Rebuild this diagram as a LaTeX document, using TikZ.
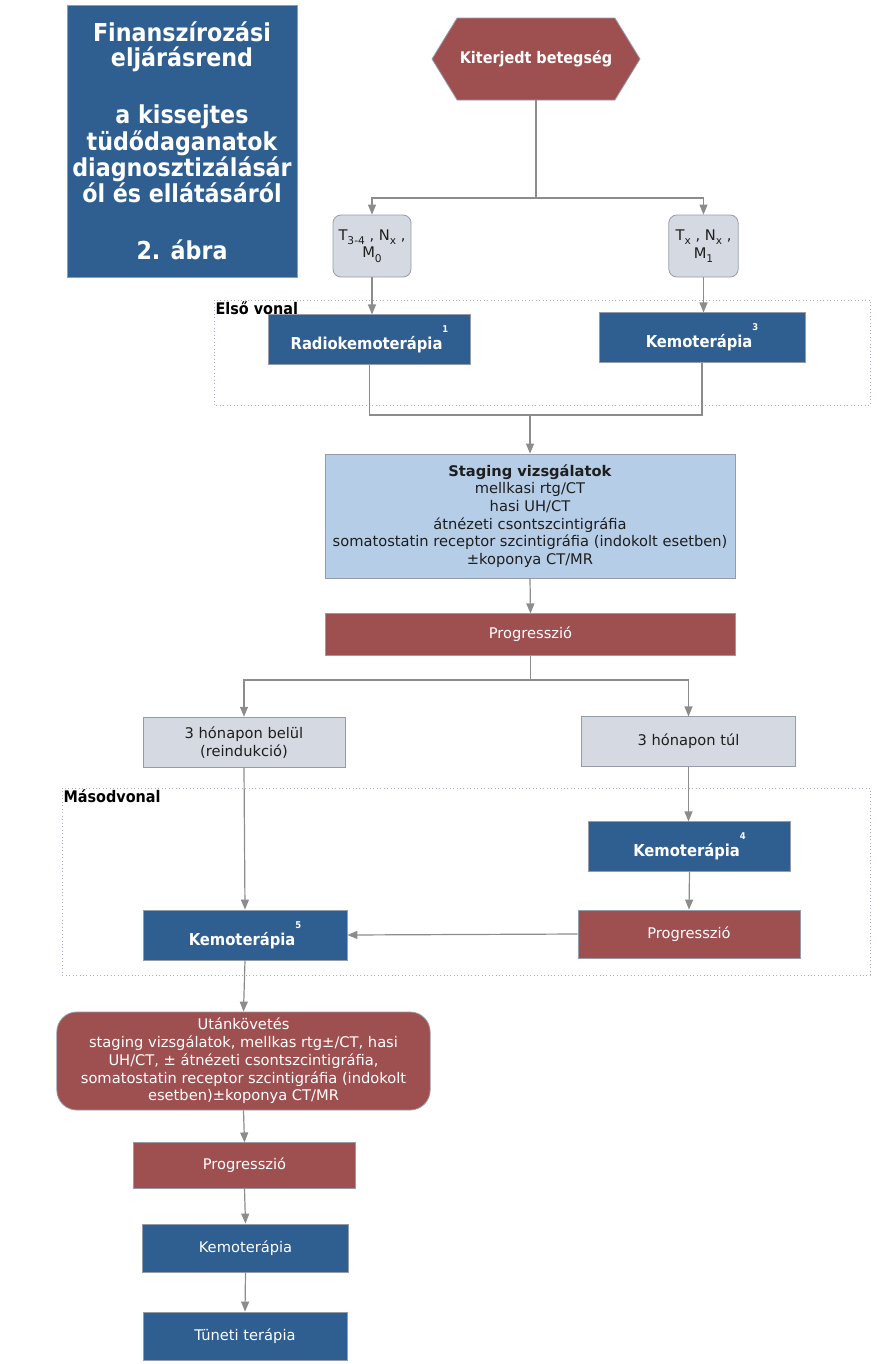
\documentclass[tikz,border=0pt]{standalone}
\usepackage{fontspec}
\setmainfont{DejaVu Sans}
\newfontfamily\condfont{DejaVu Sans Condensed}
\usepackage{tikz}
\usetikzlibrary{positioning,arrows.meta,shapes.symbols}
\definecolor{boxblue}{RGB}{47,95,145}
\definecolor{boxred}{RGB}{158,80,80}
\definecolor{boxgrey}{RGB}{213,218,226}
\definecolor{stageblue}{RGB}{181,205,231}
\definecolor{boxline}{RGB}{150,155,170}
\definecolor{arrowgrey}{RGB}{140,140,140}
\definecolor{framecol}{RGB}{165,172,200}
\definecolor{textdark}{RGB}{30,30,30}
\newcommand{\sups}[1]{\raisebox{1.9ex}{\fontsize{7}{7}\selectfont #1}}
\newcommand{\subs}[1]{\raisebox{-0.55ex}{\fontsize{8}{8}\selectfont #1}}
\tikzset{
  basebox/.style={rectangle, draw=boxline, line width=0.6pt, align=center, inner sep=2pt,
                  font=\fontsize{11}{13.3}\selectfont},
  bluebox/.style={basebox, fill=boxblue, text=white},
  redbox/.style={basebox, fill=boxred, text=white},
  greybox/.style={basebox, fill=boxgrey, text=textdark},
  stagebox/.style={basebox, fill=stageblue, text=textdark},
  heading/.style={font=\condfont\bfseries\fontsize{12.3}{14}\selectfont},
  fwd/.style={-{Triangle[length=7.5pt,width=6pt]}, draw=arrowgrey, line width=0.9pt},
  link/.style={draw=arrowgrey, line width=0.9pt},
  lineframe/.style={draw=framecol, dotted, line width=0.6pt},
  framelabel/.style={anchor=north west, inner sep=1pt, text=black,
                     font=\condfont\bfseries\fontsize{12}{13}\selectfont},
}

\begin{document}
\begin{tikzpicture}[x=0.75pt, y=-0.75pt]
  \useasboundingbox (0,0) rectangle (885,1364);

  % title panel
  \node[bluebox, minimum width=172.5pt, minimum height=204pt,
        font=\condfont\bfseries\fontsize{18.5}{18.75}\selectfont] (title) at (182,141)
       {Finanszírozási\\ eljárásrend\\[24pt] a kissejtes\\ tüdődaganatok\\ diagnosztizálásár\\ ól és ellátásáról\\[24pt] 2. ábra};

  % frames of the two lines of therapy
  \draw[lineframe] (214,300) rectangle (870,405);
  \node[framelabel] (firstlbl) at (214,300) {Első vonal};
  \draw[lineframe] (62,788) rectangle (870,975);
  \node[framelabel] (secondlbl) at (62,788) {Másodvonal};

  % top part
  \node[redbox, signal, signal to=west and east, signal pointer angle=117,
        minimum width=155pt, minimum height=61.5pt, font=\condfont\bfseries\fontsize{12}{13}\selectfont] (start) at (536,59) {Kiterjedt betegség};
  \node[greybox, rounded corners=6pt, minimum width=58.5pt, minimum height=46.5pt, inner sep=1pt] (stageA) at (372,246)
       {T\subs{3-4} , N\subs{x} ,\\ M\subs{0}};
  \node[greybox, rounded corners=6pt, minimum width=52pt, minimum height=46.5pt, inner sep=1pt] (stageB) at (703.5,246)
       {T\subs{x} , N\subs{x} ,\\ M\subs{1}};
  \node[bluebox, heading, minimum width=152pt, minimum height=37pt] (radio) at (369.5,339.5) {Radiokemoterápia\sups{1}};
  \node[bluebox, heading, minimum width=154.5pt, minimum height=37pt] (chemoA) at (702,337.5) {Kemoterápia\sups{3}};
  \node[stagebox, minimum width=307.5pt, minimum height=93pt] (staging) at (530,516)
       {\textbf{Staging vizsgálatok}\\ mellkasi rtg/CT\\ hasi UH/CT\\ átnézeti csontszcintigráfia\\
        somatostatin receptor szcintigráfia (indokolt esetben)\\ ±koponya CT/MR};
  \node[redbox, minimum width=308pt, minimum height=31pt] (prog1) at (530.5,634.5) {Progresszió};

  % second line
  \node[greybox, minimum width=151.5pt, minimum height=38pt] (early) at (244,742.5) {3 hónapon belül\\ (reindukció)};
  \node[greybox, minimum width=161pt, minimum height=37pt] (late) at (688.5,741.5) {3 hónapon túl};
  \node[bluebox, heading, minimum width=152pt, minimum height=37pt] (chemoB) at (689.5,846.5) {Kemoterápia\sups{4}};
  \node[redbox, minimum width=166.5pt, minimum height=36pt] (prog2) at (689,934) {Progresszió};
  \node[bluebox, heading, minimum width=153pt, minimum height=37.5pt] (chemoC) at (245,935) {Kemoterápia\sups{5}};

  % follow-up
  \node[redbox, rounded corners=15pt, minimum width=280pt, minimum height=73.5pt, inner sep=1pt] (follow) at (243.5,1061)
       {Utánkövetés\\ staging vizsgálatok, mellkas rtg±/CT, hasi\\ UH/CT, ± átnézeti csontszcintigráfia,\\
        somatostatin receptor szcintigráfia (indokolt\\ esetben)±koponya CT/MR};
  \node[redbox, minimum width=166pt, minimum height=34pt] (prog3) at (244.5,1165.5) {Progresszió};
  \node[bluebox, minimum width=154pt, minimum height=36pt] (chemoD) at (245.5,1248) {Kemoterápia};
  \node[bluebox, minimum width=153pt, minimum height=36pt] (palliative) at (245,1336) {Tüneti terápia};

  % junctions
  \coordinate (split1) at (536,198);
  \coordinate (join1) at (530,415);
  \coordinate (split2) at (530.5,680);

  \draw[link] (start.south) -- (split1);
  \draw[fwd] (split1) -| (stageA.north);
  \draw[fwd] (split1) -| (stageB.north);
  \draw[fwd] (stageA.south) -- (stageA.south |- radio.north);
  \draw[fwd] (stageB.south) -- (stageB.south |- chemoA.north);
  \draw[link] (radio.south) |- (join1) -| (chemoA.south);
  \draw[fwd] (join1) -- (staging.north);
  \draw[fwd] (staging.south) -- (prog1.north);
  \draw[link] (prog1.south) -- (split2);
  \draw[fwd] (split2) -| (early.north);
  \draw[fwd] (split2) -| (late.north);
  \draw[fwd] (late.south) -- (late.south |- chemoB.north);
  \draw[fwd] (chemoB.south) -- (prog2.north);
  \draw[fwd] (prog2.west) -- (chemoC.east);
  \draw[fwd] (early.south) -- (chemoC.north);
  \draw[fwd] (chemoC.south) -- (follow.north);
  \draw[fwd] (follow.south) -- (prog3.north);
  \draw[fwd] (prog3.south) -- (chemoD.north);
  \draw[fwd] (chemoD.south) -- (palliative.north);
\end{tikzpicture}
\end{document}
